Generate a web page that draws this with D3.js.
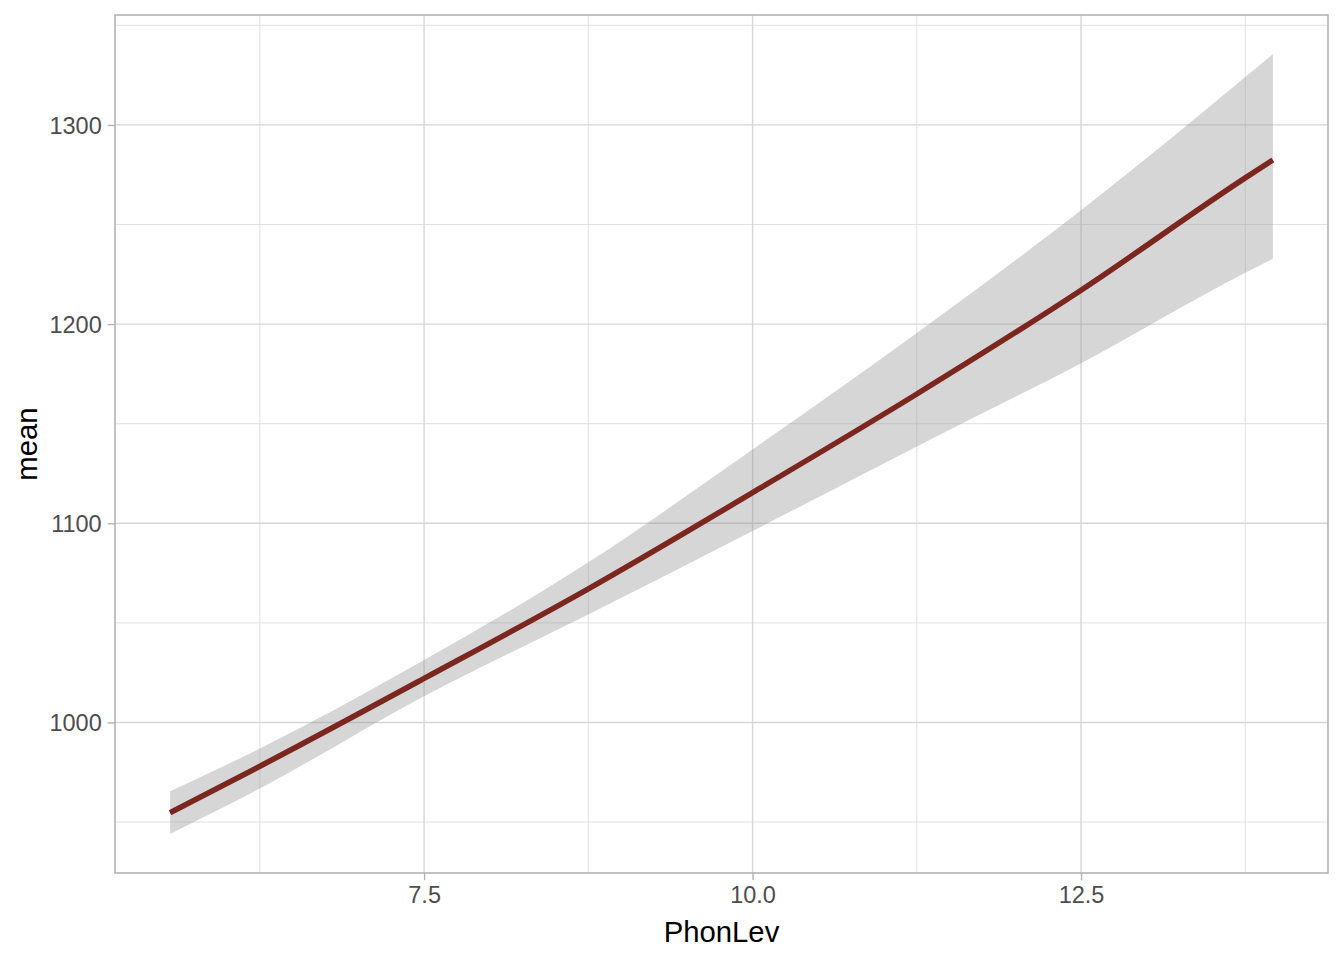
<!DOCTYPE html>
<html>
<head>
    <meta charset="utf-8">
    <script src="https://d3js.org/d3.v7.min.js"></script>
    <style>
        body { margin: 0; background: #fff; }
        .tick text { font-family: "Liberation Sans", Arial, sans-serif; font-size: 23.5px; fill: #4d4d4d; }
        .axis-title { font-family: "Liberation Sans", Arial, sans-serif; font-size: 29.3px; fill: #000; }
    </style>
</head>
<body>
<div id="chart"></div>
<script>
    // values
    const phonLev = [5.567, 6.25, 7.5, 8.75, 10.0, 11.25, 12.5, 13.75, 13.96];
    const meanFit = [954.7, 978.0, 1022.1, 1067.1, 1115.4, 1164.9, 1217.0, 1273.4, 1282.4];
    const upperCI = [965.5, 986.9, 1031.3, 1080.4, 1137.1, 1195.5, 1257.2, 1324.0, 1335.6];
    const lowerCI = [944.0, 966.9, 1013.2, 1054.2, 1096.1, 1138.6, 1180.4, 1225.8, 1232.8];
    const xTicks = [7.5, 10.0, 12.5];
    const xMinor = [6.25, 8.75, 11.25, 13.75];
    const yTicks = [1000, 1100, 1200, 1300];
    const yMinor = [950, 1050, 1150, 1250, 1350];

    const W = 1344, H = 960;
    const margin = { top: 15, right: 16, bottom: 87, left: 115 };

    const rows = phonLev.map((x, i) => ({ x: x, y: meanFit[i], lo: lowerCI[i], hi: upperCI[i] }));

    // ggplot-style 5% expansion
    function expand(lo, hi) {
        const d = (hi - lo) * 0.05;
        return [lo - d, hi + d];
    }

    const x = d3.scaleLinear()
        .domain(expand(d3.min(phonLev), d3.max(phonLev)))
        .range([margin.left, W - margin.right]);
    const y = d3.scaleLinear()
        .domain(expand(d3.min(lowerCI), d3.max(upperCI)))
        .range([H - margin.bottom, margin.top]);

    const svg = d3.select("#chart").append("svg")
        .attr("width", W)
        .attr("height", H);

    // grid
    const grid = svg.append("g");
    grid.selectAll(".ymin").data(yMinor.filter(v => y(v) > margin.top && y(v) < H - margin.bottom))
        .join("line")
        .attr("x1", margin.left).attr("x2", W - margin.right)
        .attr("y1", d => y(d)).attr("y2", d => y(d))
        .attr("stroke", "#dedede").attr("stroke-width", 0.9);
    grid.selectAll(".xmin").data(xMinor)
        .join("line")
        .attr("x1", d => x(d)).attr("x2", d => x(d))
        .attr("y1", margin.top).attr("y2", H - margin.bottom)
        .attr("stroke", "#dedede").attr("stroke-width", 0.9);
    grid.selectAll(".ymaj").data(yTicks)
        .join("line")
        .attr("x1", margin.left).attr("x2", W - margin.right)
        .attr("y1", d => y(d)).attr("y2", d => y(d))
        .attr("stroke", "#d6d6d6").attr("stroke-width", 1.4);
    grid.selectAll(".xmaj").data(xTicks)
        .join("line")
        .attr("x1", d => x(d)).attr("x2", d => x(d))
        .attr("y1", margin.top).attr("y2", H - margin.bottom)
        .attr("stroke", "#d6d6d6").attr("stroke-width", 1.4);

    // confidence ribbon
    svg.append("path")
        .datum(rows)
        .attr("fill", "#999999")
        .attr("fill-opacity", 0.4)
        .attr("d", d3.area()
            .curve(d3.curveMonotoneX)
            .x(d => x(d.x))
            .y0(d => y(d.lo))
            .y1(d => y(d.hi)));

    // fitted line
    svg.append("path")
        .datum(rows)
        .attr("fill", "none")
        .attr("stroke", "#7b261e")
        .attr("stroke-width", 5.5)
        .attr("d", d3.line()
            .curve(d3.curveMonotoneX)
            .x(d => x(d.x))
            .y(d => y(d.y)));

    // panel border
    svg.append("rect")
        .attr("x", margin.left).attr("y", margin.top)
        .attr("width", W - margin.left - margin.right)
        .attr("height", H - margin.top - margin.bottom)
        .attr("fill", "none")
        .attr("stroke", "#b3b3b3")
        .attr("stroke-width", 1.6);

    // axes
    const xAxis = svg.append("g")
        .attr("transform", `translate(0,${H - margin.bottom})`)
        .call(d3.axisBottom(x).tickValues(xTicks).tickFormat(d3.format(".1f"))
            .tickSize(7.3).tickPadding(6));
    const yAxis = svg.append("g")
        .attr("transform", `translate(${margin.left},0)`)
        .call(d3.axisLeft(y).tickValues(yTicks).tickFormat(d3.format("d"))
            .tickSize(7.3).tickPadding(6));
    [xAxis, yAxis].forEach(a => {
        a.select(".domain").remove();
        a.selectAll(".tick line").attr("stroke", "#b3b3b3").attr("stroke-width", 1.4);
    });
    yAxis.selectAll(".tick text").attr("dy", "0.36em");

    // axis titles
    svg.append("text")
        .attr("class", "axis-title")
        .attr("text-anchor", "middle")
        .attr("x", (margin.left + W - margin.right) / 2)
        .attr("y", 942)
        .text("PhonLev");
    svg.append("text")
        .attr("class", "axis-title")
        .attr("text-anchor", "middle")
        .attr("transform", `translate(37,${(margin.top + H - margin.bottom) / 2}) rotate(-90)`)
        .text("mean");
</script>
</body>
</html>
